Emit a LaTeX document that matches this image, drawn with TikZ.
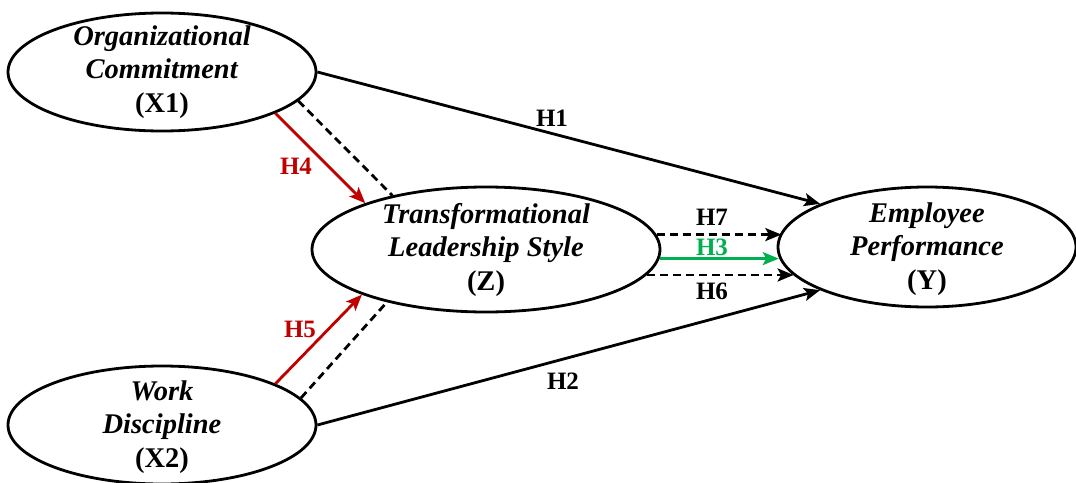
\documentclass[tikz,border=0pt]{standalone}
\usepackage{fontspec}
\setmainfont{Liberation Serif}
\usetikzlibrary{arrows.meta,shapes.geometric}
\definecolor{hred}{HTML}{C00000}
\definecolor{hgreen}{HTML}{00B050}
\begin{document}
\begin{tikzpicture}[x=1pt,y=-1pt,
  var/.style={ellipse, draw, line width=2.8pt, inner sep=0pt},
  vtext/.style={align=center, font=\fontsize{28.5}{33.5}\selectfont\bfseries},
  hyp/.style={font=\fontsize{25}{29}\selectfont\bfseries},
  link/.style={line width=2.8pt, -{Stealth[length=16pt,width=13pt,inset=3.5pt]}},
  dlink/.style={link, dash pattern=on 8pt off 5pt},
  dline/.style={line width=2.8pt, dash pattern=on 8pt off 5pt},
]
\useasboundingbox (0,0) rectangle (1076,482);
% ellipses
\node[var, minimum width=308pt, minimum height=118pt] (x1) at (162,72) {};
\node[var, minimum width=308pt, minimum height=118pt] (x2) at (162,425) {};
\node[var, minimum width=348pt, minimum height=125pt] (z) at (486,249.5) {};
\node[var, minimum width=298pt, minimum height=120pt] (y) at (927,247) {};
% texts
\node[vtext] (x1t) at (x1.center) {\textit{Organizational}\\\textit{Commitment}\\(X1)};
\node[vtext] (x2t) at (162,427) {\textit{Work}\\\textit{Discipline}\\(X2)};
\node[vtext] (zt) at (z.center) {\textit{Transformational}\\\textit{Leadership Style}\\(Z)};
\node[vtext] (yt) at (927,249) {\textit{Employee}\\\textit{Performance}\\(Y)};
% direct paths
\draw[link] (x1.east) -- (y.158.2);
\draw[link] (x2.east) -- (y.202.3);
% mediation to Z
\draw[link, hred] (x1.-20.9) -- (z.159.85);
\draw[dline] (x1.-12.35) -- (z.150.04);
\draw[link, hred] (x2.20.0) -- (z.200.15);
\draw[dline] (x2.11.7) -- (z.208.15);
% Z to Y
\draw[dlink] (z.5.98) -- (z.5.98 -| y.174.07);
\draw[link, hgreen] (z.-3.16) -- (z.-3.16 -| y.184.7);
\draw[dlink] (z.-9.55) -- (z.-9.55 -| y.192.5);
% labels
\node[hyp] (h1) at (552,118) {H1};
\node[hyp] (h2) at (563,381) {H2};
\node[hyp, text=hred] (h4) at (296,166) {H4};
\node[hyp, text=hred] (h5) at (300,329) {H5};
\node[hyp] (h7) at (712,217) {H7};
\node[hyp, text=hgreen] (h3) at (712,247) {H3};
\node[hyp] (h6) at (712,291) {H6};
\end{tikzpicture}
\end{document}
